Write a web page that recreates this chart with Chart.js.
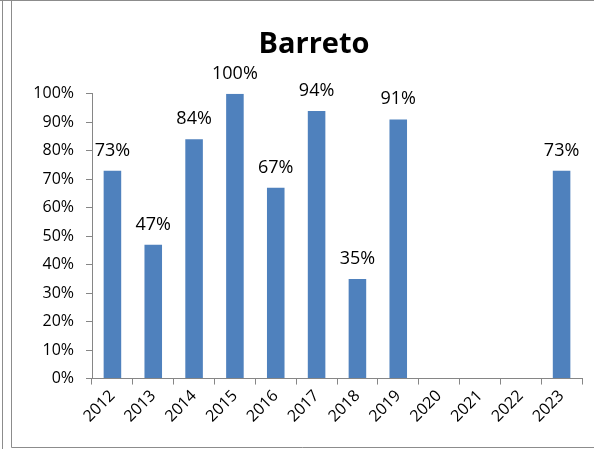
<!DOCTYPE html>
<html>
<head>
<meta charset="utf-8">
<script src="https://cdn.jsdelivr.net/npm/chart.js@4"></script>
<style>
  html, body { margin: 0; padding: 0; background: #fff; }
  #wrap { position: relative; width: 594px; height: 449px; }
</style>
</head>
<body>
<div id="wrap"><canvas id="barChart" width="594" height="449"></canvas></div>
<script>
// ========= DATA =========
const years = ["2012", "2013", "2014", "2015", "2016", "2017", "2018", "2019", "2020", "2021", "2022", "2023"];
const values = [73, 47, 84, 100, 67, 94, 35, 91, null, null, null, 73];
const yTicks = [0, 10, 20, 30, 40, 50, 60, 70, 80, 90, 100];

const axisGray = "#868686";
const fontFamily = "'Open Sans', sans-serif";

// labels on top of each bar
const barLabels = {
  id: "barLabels",
  afterDatasetsDraw(chart) {
    const ctx = chart.ctx;
    const meta = chart.getDatasetMeta(0);
    ctx.save();
    ctx.font = "18px " + fontFamily;
    ctx.fillStyle = "#000";
    ctx.textAlign = "center";
    ctx.textBaseline = "alphabetic";
    meta.data.forEach((bar, i) => {
      if (values[i] == null) return;
      ctx.fillText(values[i] + "%", bar.x, bar.y - 15);
    });
    ctx.restore();
  },
};

// the sheet-like frame lines around the chart
const frame = {
  id: "frame",
  afterLayout(chart) {
    // title sits a little right of the canvas middle in the original
    if (chart.titleBlock) {
      chart.titleBlock.left += 9;
      chart.titleBlock.right += 9;
    }
  },
  afterDraw(chart) {
    const ctx = chart.ctx;
    ctx.save();
    ctx.strokeStyle = "#8c8c8c";
    ctx.lineWidth = 1;
    ctx.beginPath();
    ctx.moveTo(0, 0.5); ctx.lineTo(594, 0.5);
    ctx.moveTo(2.5, 0); ctx.lineTo(2.5, 449);
    ctx.moveTo(11.5, 0); ctx.lineTo(11.5, 447.5);
    ctx.lineTo(594, 447.5);
    ctx.stroke();
    ctx.restore();
  },
};

let ctx = document.getElementById("barChart").getContext("2d");

let barChart = new Chart(ctx, {
  type: "bar",
  data: {
    labels: years,
    datasets: [
      {
        data: values,
        backgroundColor: "#4F81BD",
        borderWidth: 0,
        categoryPercentage: 1,
        barPercentage: 0.43,
      },
    ],
  },
  options: {
    responsive: false,
    animation: false,
    layout: {
      padding: { left: 28, right: 12, top: 13, bottom: 21 },
    },
    plugins: {
      legend: { display: false },
      tooltip: { enabled: false },
      title: {
        display: true,
        text: "Barreto",
        color: "#000",
        font: { family: fontFamily, size: 29, weight: "bold" },
        padding: { top: 14, bottom: 32 },
      },
    },
    scales: {
      x: {
        grid: {
          drawOnChartArea: false,
          drawTicks: true,
          tickLength: 6,
          color: axisGray,
          offset: true,
        },
        border: { color: axisGray },
        ticks: {
          color: "#000",
          font: { family: fontFamily, size: 16 },
          maxRotation: 45,
          minRotation: 45,
          padding: 2,
        },
      },
      y: {
        min: 0,
        max: 100,
        afterBuildTicks(axis) {
          axis.ticks = yTicks.map((v) => ({ value: v }));
        },
        // fixed box width so the axis line lands where the original has it
        afterFit(axis) {
          axis.width = 64;
        },
        grid: {
          drawOnChartArea: false,
          drawTicks: true,
          tickLength: 6,
          color: axisGray,
        },
        border: { color: axisGray },
        ticks: {
          color: "#000",
          font: { family: fontFamily, size: 16 },
          padding: 12,
          callback: (v) => v + "%",
        },
      },
    },
  },
  plugins: [barLabels, frame],
});
</script>
</body>
</html>
